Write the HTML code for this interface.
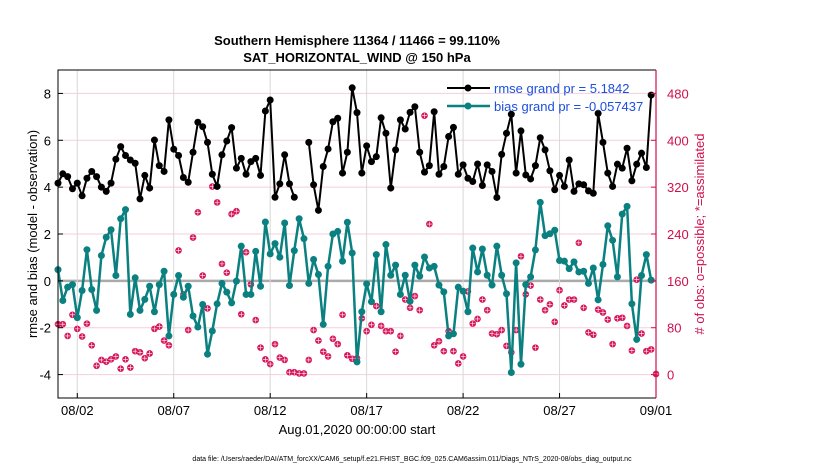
<!DOCTYPE html>
<html><head><meta charset="utf-8"><style>
body{margin:0;background:#fff;}
svg text{font-family:"Liberation Sans",sans-serif;}
</style></head><body>
<svg id="chart" width="830" height="470" xmlns="http://www.w3.org/2000/svg">
<g id="grid"></g>
<g id="marks"></g>
<g id="axes"></g>
<text x="357" y="45" text-anchor="middle" font-size="13" font-weight="bold">Southern Hemisphere 11364 / 11466 = 99.110%</text>
<text x="357" y="62" text-anchor="middle" font-size="13" font-weight="bold">SAT_HORIZONTAL_WIND @ 150 hPa</text>
<text transform="translate(37,234) rotate(-90)" text-anchor="middle" font-size="13">rmse and bias (model - observation)</text>
<text transform="translate(704,234) rotate(-90)" text-anchor="middle" font-size="13" fill="#d0104c"># of obs: o=possible; *=assimilated</text>
<text x="357" y="434" text-anchor="middle" font-size="13">Aug.01,2020 00:00:00 start</text>
<text x="412" y="461" text-anchor="middle" font-size="7">data file: /Users/raeder/DAI/ATM_forcXX/CAM6_setup/f.e21.FHIST_BGC.f09_025.CAM6assim.011/Diags_NTrS_2020-08/obs_diag_output.nc</text>
<g>
<line x1="447" y1="88" x2="490" y2="88" stroke="#000" stroke-width="2"/>
<circle cx="468" cy="88" r="3.5" fill="#000"/>
<text x="494" y="93" font-size="13" fill="#1a4fe0">rmse grand pr = 5.1842</text>
<line x1="447" y1="106" x2="490" y2="106" stroke="#0a8080" stroke-width="2.5"/>
<circle cx="468" cy="106" r="3.5" fill="#0a8080"/>
<text x="494" y="111" font-size="13" fill="#1a4fe0">bias grand pr = -0.057437</text>
</g>
</svg>
<script>
const rmse=[4.17,4.57,4.45,3.93,4.17,3.63,4.38,4.67,4.45,4.0,3.82,4.17,5.19,5.73,5.35,5.16,5.02,3.5,4.5,3.96,6.01,4.92,4.67,6.87,5.62,5.35,4.41,4.21,5.49,6.77,6.58,5.91,
4.55,4.03,5.38,5.97,6.54,4.81,5.23,4.55,5.09,5.23,4.50,7.25,7.72,3.57,4.14,5.38,4.14,3.57,null,null,5.91,4.10,3.01,4.88,5.63,6.79,6.94,4.60,5.49,8.24,7.18,
4.60,5.76,5.09,5.30,6.96,6.30,3.96,5.59,6.87,6.48,7.19,7.43,5.49,4.64,4.92,7.22,4.55,4.88,6.16,6.55,4.55,4.95,4.38,4.24,4.99,4.07,4.95,4.67,3.56,5.40,6.30,
7.11,4.60,6.40,4.52,4.35,4.92,6.11,5.59,4.70,3.89,4.50,4.03,5.16,3.82,4.14,4.10,3.84,3.74,7.15,5.91,4.60,4.03,4.98,4.81,5.66,4.27,4.98,5.45,4.84,7.93];
const bias=[0.48,-0.84,-0.27,-0.16,-1.57,-0.41,1.33,-0.37,-1.26,1.08,1.86,2.18,0.23,2.65,3.04,-1.43,0.13,-1.26,-0.79,-0.23,-1.32,-0.16,0.41,-2.35,-0.58,0.23,-0.70,-0.23,-1.50,-1.97,-1.01,-3.13,
-2.14,-0.98,-0.11,-0.48,-0.94,-0.01,1.48,-0.58,-0.58,1.26,-0.23,2.51,1.15,1.59,1.01,2.47,-0.20,1.29,2.65,1.80,-0.11,0.91,0.27,-1.86,0.62,2.0,2.11,0.84,2.50,1.19,-3.46,
-1.32,-0.13,-0.89,1.12,-1.32,1.55,0.24,0.67,-0.58,0.24,-0.87,0.67,0.20,1.02,0.55,0.62,-0.18,-0.47,-2.35,-2.26,-0.27,-0.44,-1.32,1.40,0.38,1.36,0.24,-0.18,1.48,0.24,-0.55,
-3.91,0.77,-3.56,-0.16,0.17,1.32,3.35,1.93,2.01,2.16,0.87,0.84,0.52,0.81,0.38,0.41,-0.11,0.55,-0.81,0.70,2.35,1.73,0.17,2.85,3.18,-0.98,-2.50,0.23,1.12,0.03];
const obsCount=[86,86,66,102,78,65,87,50,15,25,22,26,31,10,26,12,40,38,28,36,78,82,58,50,137,212,137,76,234,277,169,113,
321,294,189,174,274,279,103,209,154,93,46,26,18,52,29,25,4,4,2,2,25,76,58,39,31,61,52,102,33,27,28,
96,74,85,117,83,74,74,39,66,128,114,134,110,442,257,50,57,40,74,40,19,31,142,87,95,128,110,70,69,76,49,
38,76,202,137,152,46,128,110,120,90,144,118,128,128,225,114,72,68,111,106,94,52,96,97,83,41,162,70,40,43,1];
const leftTicks=[8,6,4,2,0,-2,-4];
const rightTicks=[480,400,320,240,160,80,0];
const dateTicks=[1,6,11,16,21,26,31];
const dateLabels=["08/02","08/07","08/12","08/17","08/22","08/27","09/01"];

const X0=58,X1=656,Y0=70,Y1=398;
const xs=d=>X0+(X1-X0)*d/31;
const ys=v=>Y1-(Y1-Y0)*(v+5)/14;
const yr=c=>ys(c/40-4);
const NS="http://www.w3.org/2000/svg";
function mk(tag,attrs,parent){const e=document.createElementNS(NS,tag);for(const k in attrs)e.setAttribute(k,attrs[k]);parent.appendChild(e);return e;}
const grid=document.getElementById('grid'),marks=document.getElementById('marks'),axes=document.getElementById('axes');

leftTicks.forEach(v=>{
  const g=mk('line',{x1:X0,x2:X1,y1:ys(v),y2:ys(v),stroke:v===0?'#aaa':'#f3cfdc','stroke-width':v===0?2.5:1},grid);
  
  
  const t=mk('text',{x:X0-7,y:ys(v)+5,'text-anchor':'end','font-size':13},axes);t.textContent=v;
  
  
  mk('line',{x1:X0,x2:X0+5,y1:ys(v),y2:ys(v),stroke:'#000'},axes);
});
rightTicks.forEach(c=>{
  const t=mk('text',{x:X1+11,y:yr(c)+5,'font-size':13,fill:'#d0104c'},axes);t.textContent=c;
  
  
  mk('line',{x1:X1-5,x2:X1,y1:yr(c),y2:yr(c),stroke:'#d0104c'},axes);
});
dateTicks.forEach((d,i)=>{
  const g=mk('line',{x1:xs(d),x2:xs(d),y1:Y0,y2:Y1,stroke:'#d8d8d8','stroke-width':1},grid);
  
  
  const t=mk('text',{x:xs(d),y:Y1+17,'text-anchor':'middle','font-size':13},axes);t.textContent=dateLabels[i];
  
  
  mk('line',{x1:xs(d),x2:xs(d),y1:Y1,y2:Y1-5,stroke:'#000'},axes);
});
mk('path',{d:`M${X1} ${Y0}H${X0}V${Y1}H${X1}`,fill:'none',stroke:'#000','stroke-width':1},axes);
mk('line',{x1:X1,x2:X1,y1:Y0,y2:Y1,stroke:'#d0104c','stroke-width':1.2},axes);

// obs markers
obsCount.forEach((c,i)=>{
  const x=xs(i*0.25),y=yr(c);
  const g=mk('g',{},marks);
  
  
  mk('circle',{cx:x,cy:y,r:3.3,fill:'#d6165a'},g);
  mk('path',{d:`M${x-2.5} ${y}H${x+2.5}M${x} ${y-2.5}V${y+2.5}`,stroke:'#fff','stroke-width':0.6},g);
});
function series(arr,color,w,name){
  let d='',pen=false;
  arr.forEach((v,i)=>{if(v===null){pen=false;return;}d+=(pen?'L':'M')+xs(i*0.25).toFixed(1)+' '+ys(v).toFixed(1);pen=true;});
  const p=mk('path',{d:d,fill:'none',stroke:color,'stroke-width':w,'stroke-linejoin':'round'},marks);
  
  
  arr.forEach((v,i)=>{if(v===null)return;
    const c=mk('circle',{cx:xs(i*0.25),cy:ys(v),r:3.5,fill:color},marks);
    
    
  });
}
series(bias,'#0a8080',2.5,'bias');
series(rmse,'#000',2,'rmse');
</script>
</body></html>
